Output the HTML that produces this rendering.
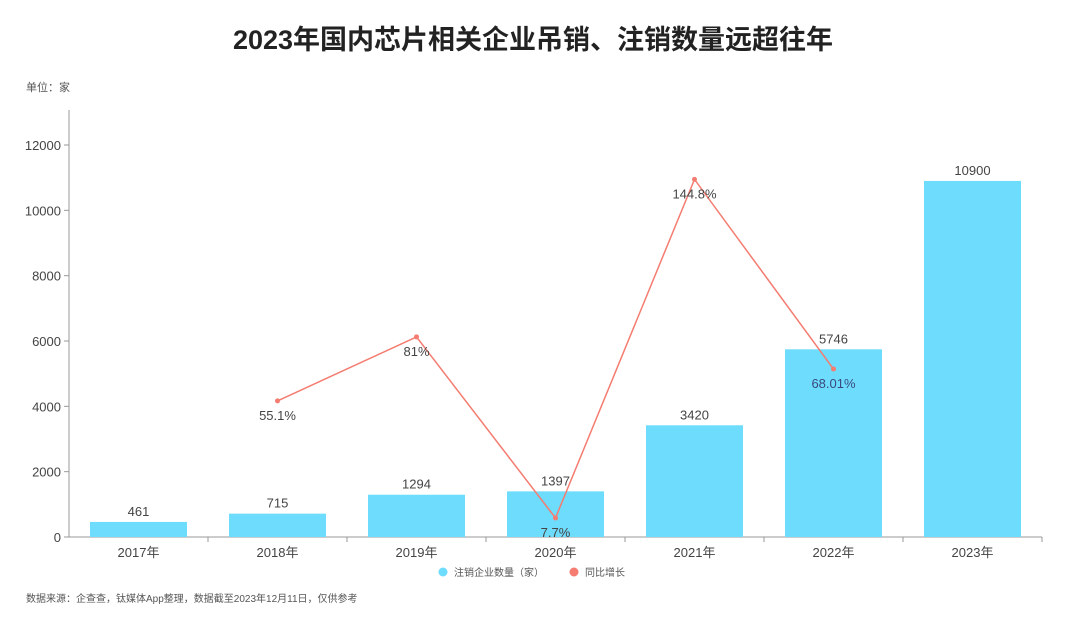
<!DOCTYPE html>
<html><head><meta charset="utf-8"><style>
body{margin:0;background:#fff;width:1066px;height:620px;overflow:hidden}
svg text{font-family:"Liberation Sans","Noto Sans CJK SC",sans-serif}
</style></head><body>
<svg id="c" width="1066" height="620" xmlns="http://www.w3.org/2000/svg">
<text x="533" y="49" text-anchor="middle" font-size="27" font-weight="bold" fill="#222">2023年国内芯片相关企业吊销、注销数量远超往年</text>
<text x="26" y="91" font-size="11" fill="#555">单位：家</text>
<text x="26" y="602" font-size="10" fill="#555">数据来源：企查查，钛媒体App整理，数据截至2023年12月11日，仅供参考</text>
<g id="g"></g>
</svg>
<script>
const categories=["2017年","2018年","2019年","2020年","2021年","2022年","2023年"];
const counts=[461,715,1294,1397,3420,5746,10900];
const growth=[null,55.1,81,7.7,144.8,68.01,null];
const growthLabels=["","55.1%","81%","7.7%","144.8%","68.01%",""];
const yTicks=[0,2000,4000,6000,8000,10000,12000];
const NS="http://www.w3.org/2000/svg",g=document.getElementById('g');
const x0=69,x1=1042,y0=537,band=(x1-x0)/categories.length;
const y=v=>y0-v*(392/12000);
const y2=v=>y0-v*2.47;
const xc=i=>x0+band*(i+0.5);
function el(t,a,txt){const e=document.createElementNS(NS,t);for(const k in a)e.setAttribute(k,a[k]);if(txt!=null)e.textContent=txt;g.appendChild(e);return e;}
let e=el('line',{x1:x0,x2:x0,y1:110,y2:y0,stroke:'#999'});

e=el('line',{x1:x0,x2:x1,y1:y0,y2:y0,stroke:'#999'});

yTicks.forEach(v=>{
 e=el('line',{x1:x0-5,x2:x0,y1:y(v),y2:y(v),stroke:'#999'});
 
 e=el('text',{x:x0-8,y:y(v)+5,'text-anchor':'end','font-size':13,fill:'#444'},v);
 
});
categories.forEach((c,i)=>{
 e=el('text',{x:xc(i),y:y0+20,'text-anchor':'middle','font-size':13,fill:'#444'},c);
 
 e=el('line',{x1:x0+band*(i+1),x2:x0+band*(i+1),y1:y0,y2:y0+5,stroke:'#999'});
 
 e=el('rect',{x:xc(i)-48.5,y:y(counts[i]),width:97,height:y0-y(counts[i]),fill:'#6edcfc'});
 
 e=el('text',{x:xc(i),y:y(counts[i])-6,'text-anchor':'middle','font-size':13,fill:'#444'},counts[i]);
 
});
const pts=growth.map((v,i)=>v==null?null:[xc(i),y2(v)]).filter(p=>p);
e=el('polyline',{points:pts.map(p=>p.join(',')).join(' '),fill:'none',stroke:'#f47c70','stroke-width':1.5});

growth.forEach((v,i)=>{if(v==null)return;
 e=el('circle',{cx:xc(i),cy:y2(v),r:2.5,fill:'#f47c70'});
 
 e=el('text',{x:xc(i),y:y2(v)+19,'text-anchor':'middle','font-size':13,fill:i==5?'#3a4a80':'#444'},growthLabels[i]);
 
});
e=el('circle',{cx:443,cy:572,r:4.5,fill:'#6edcfc'});

e=el('text',{x:454,y:576,'font-size':10,fill:'#555'},'注销企业数量（家）');

e=el('circle',{cx:574,cy:572,r:4.5,fill:'#f47c70'});

e=el('text',{x:585,y:576,'font-size':10,fill:'#555'},'同比增长');

</script>
</body></html>
